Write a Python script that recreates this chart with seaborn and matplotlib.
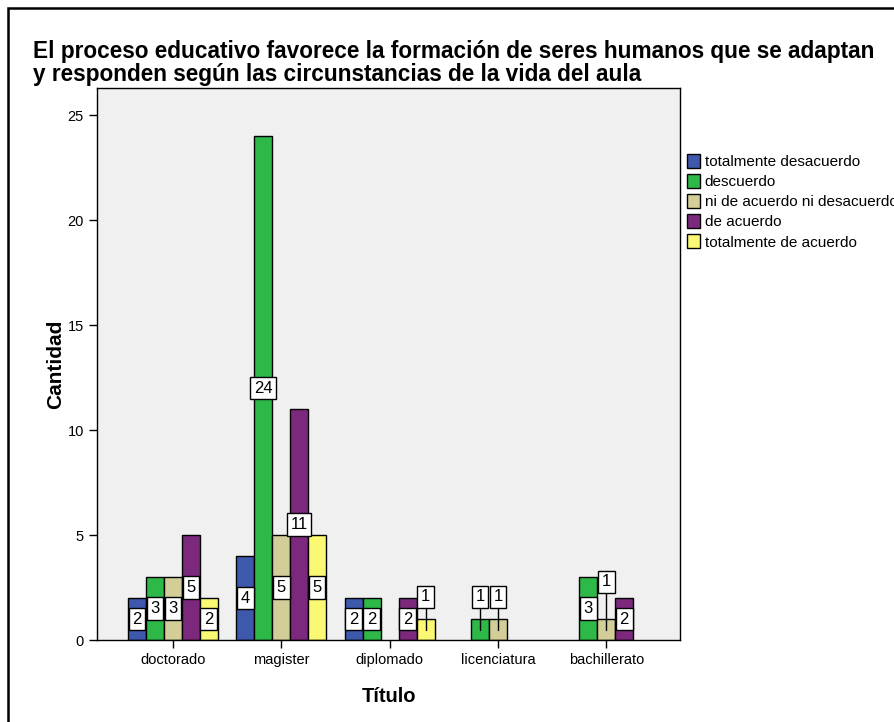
import pandas as pd
import seaborn as sns
import matplotlib.pyplot as plt
from matplotlib.patches import Rectangle, Patch

titulos = ["doctorado", "magister", "diplomado", "licenciatura", "bachillerato"]
respuestas = ["totalmente desacuerdo", "descuerdo", "ni de acuerdo ni desacuerdo",
              "de acuerdo", "totalmente de acuerdo"]
tot_desacuerdo = [2, 4, 2, 0, 0]
desacuerdo = [3, 24, 2, 1, 3]
neutral = [3, 5, 0, 1, 1]
de_acuerdo = [5, 11, 2, 0, 2]
tot_acuerdo = [2, 5, 1, 0, 0]
colores = ["#3e58ac", "#2eb848", "#d3ce97", "#7c287d", "#fbf873"]

series = [tot_desacuerdo, desacuerdo, neutral, de_acuerdo, tot_acuerdo]
rows = []
for resp, vals in zip(respuestas, series):
    for tit, v in zip(titulos, vals):
        if v > 0:
            rows.append({"Título": tit, "respuesta": resp, "Cantidad": v})
df = pd.DataFrame(rows)

sns.set_style("white")
plt.rcParams["font.family"] = ["Liberation Sans", "DejaVu Sans"]
plt.rcParams["text.color"] = "black"
plt.rcParams["axes.labelcolor"] = "black"
plt.rcParams["xtick.color"] = "black"
plt.rcParams["ytick.color"] = "black"

fig = plt.figure(figsize=(8.95, 7.22), dpi=100)
ax = fig.add_axes([97 / 895, 1 - 640 / 722, 583 / 895, 552 / 722])
ax.set_facecolor("#f0f0f0")

sns.barplot(data=df, x="Título", y="Cantidad", hue="respuesta", order=titulos,
            hue_order=respuestas, palette=colores, width=0.83, edgecolor="black",
            linewidth=1, saturation=1, legend=False, ax=ax)

ax.set_xlim(-0.70, 4.68)
ax.set_ylim(0, 26.3)
ax.set_yticks([0, 5, 10, 15, 20, 25])
ax.tick_params(axis="both", direction="out", length=6, width=1, color="black",
               labelsize=10.5, left=True, bottom=True)
for s in ax.spines.values():
    s.set_color("black")
    s.set_linewidth(1)
ax.set_xlabel("Título", fontsize=14.5, fontweight="bold", labelpad=14)
ax.set_ylabel("Cantidad", fontsize=15, fontweight="bold", labelpad=2)

# etiquetas de valor
bars = []
for p in ax.patches:
    h = p.get_height()
    if h > 0:
        bars.append((p.get_x() + p.get_width() / 2, h, p.get_width()))
bars.sort()
box = dict(boxstyle="square,pad=0.22", fc="white", ec="black", lw=1)
for i, (x, h, w) in enumerate(bars):
    if h >= 2:
        ax.text(x, h / 2, f"{int(h)}", ha="center", va="center", fontsize=12, bbox=box, zorder=5)
    else:
        y = 2.05
        if i > 0:
            px, ph, _ = bars[i - 1]
            if abs(px - x) < w * 1.5 and ph >= 2 and abs(ph / 2 - y) < 1.0:
                y = ph / 2 + 1.27
        ax.plot([x, x], [h / 2, y], color="black", lw=1, zorder=4)
        ax.text(x, y, f"{int(h)}", ha="center", va="center", fontsize=12, bbox=box, zorder=5)

handles = [Patch(facecolor=c, edgecolor="black", label=r) for c, r in zip(colores, respuestas)]
fig.legend(handles=handles, loc="upper left", bbox_to_anchor=(687 / 895, 1 - 154 / 722),
           frameon=False, fontsize=11, handlelength=0.85, handleheight=1.0,
           handletextpad=0.3, labelspacing=0.33, borderaxespad=0, borderpad=0)

fig.text(33 / 895, 1 - 81 / 722,
         "El proceso educativo favorece la formación de seres humanos que se adaptan\n"
         "y responden según las circunstancias de la vida del aula",
         fontsize=16.3, fontweight="bold", ha="left", va="baseline", linespacing=1.0)

fig.patches.append(Rectangle((8 / 895, -0.1), 1.0, 1 - 8 / 722 + 0.1, transform=fig.transFigure,
                             fill=False, ec="black", lw=1.8))

fig.savefig("out.png", dpi=100)
